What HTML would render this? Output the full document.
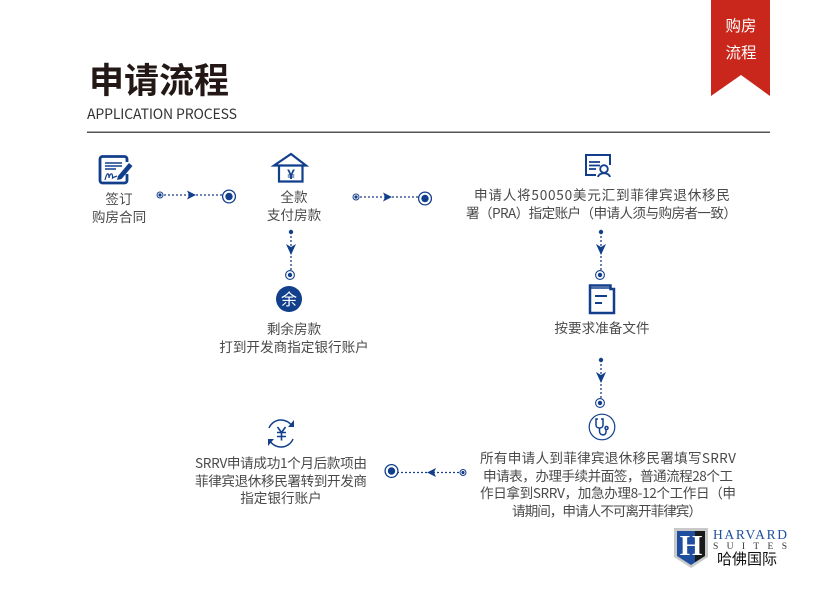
<!DOCTYPE html>
<html lang="zh">
<head>
<meta charset="utf-8">
<style>
html,body{margin:0;padding:0;background:#fff}
svg{display:block}
text{font-family:"Liberation Sans","Noto Sans CJK SC",sans-serif}
.t{font-family:"Noto Sans CJK SC",sans-serif;font-size:13.6px;fill:#4a4a4a;text-anchor:middle}
.dash{stroke:#1b3f8b;stroke-width:1.3;stroke-dasharray:2 2;fill:none}
.ic{fill:none;stroke:#123f8c;stroke-width:2.2}
.ic1{fill:none;stroke:#123f8c;stroke-width:1.5}
.blue{fill:#123f8c}
</style>
</head>
<body>
<svg width="826" height="600" viewBox="0 0 826 600" xmlns="http://www.w3.org/2000/svg">
<defs>
<g id="h"><line class="dash" x1="0" y1="0" x2="63" y2="0"/><circle cx="0" cy="0" r="3" fill="#fff" stroke="#1b3f8b" stroke-width="1"/><circle r="1.600" class="blue"/><path class="blue" d="M27 -4.500L36 0L27 4.500L29 0Z"/><circle cx="69" cy="1.500" r="6.400" fill="#fff" stroke="#123f8c" stroke-width="1.300"/><circle cx="69" cy="1.500" r="3.700" class="blue"/></g>
<g id="v"><line class="dash" x1="0" y1="0" x2="0" y2="40"/><circle r="2.200" class="blue"/><path class="blue" d="M-5 12L0 15L5 12L0 23Z"/><circle cx="-1" cy="43" r="4.400" fill="#fff" stroke="#123f8c" stroke-width="1.100"/><circle cx="-1" cy="43" r="2.200" class="blue"/></g>
</defs>

<!-- header -->
<text x="89" y="93" style="font-family:'Noto Sans CJK SC',sans-serif;font-size:35px;font-weight:700;fill:#231815">申请流程</text>
<text x="87" y="119" style="font-family:'Noto Sans CJK SC',sans-serif;font-size:14px;fill:#333" textLength="150">APPLICATION PROCESS</text>
<rect x="87" y="131.500" width="683" height="1.500" fill="#555"/>
<path d="M711 0H770V96L741 75L711 96Z" fill="#c9261c"/>
<text x="741" y="31" text-anchor="middle" style="font-family:'Noto Sans CJK SC',sans-serif;font-size:15.500px;fill:#fff">购房</text>
<text x="741" y="58" text-anchor="middle" style="font-family:'Noto Sans CJK SC',sans-serif;font-size:15.500px;fill:#fff">流程</text>

<!-- icon: contract -->
<path class="ic" style="stroke-width:2.800" d="M127 162V159A2.500 2.500 0 0 0 124.500 156.500H102.500A2.500 2.500 0 0 0 100 159V180.500A2.500 2.500 0 0 0 102.500 183H124.500A2.500 2.500 0 0 0 127 180.500V174"/>
<path class="ic1" d="M105 163H122M105 166H122M105 169H116"/>
<path class="ic1" style="stroke-width:1.200" d="M105 180C107 172 109 172 109 178C110 173 113 172 112.500 178C113.500 177 115 177 117 176"/>
<path class="blue" d="M118 176L129 163L132.500 166L121.500 179L117 180Z"/>
<!-- icon: house -->
<path class="ic" d="M274 165.500L291 154L306 165.500Z"/>
<path class="ic" d="M279 166V181.500H302.500V166"/>
<text x="291" y="179" text-anchor="middle" style="font-family:'Liberation Sans',sans-serif;font-size:14px;font-weight:700;fill:#123f8c">¥</text>
<!-- icon: id -->
<path class="ic1" style="stroke-width:2" d="M610 165V155H586V175H596"/>
<path class="ic1" style="stroke-width:1.700" d="M589 162H600M589 165.500H600M589 169H596"/>
<circle class="ic1" style="stroke-width:1.800" cx="604" cy="169" r="3.800"/>
<path class="ic1" style="stroke-width:1.800" d="M598 177C599 172 609 172 610 177"/>
<!-- icon: doc -->
<path class="ic" style="stroke-width:2.500" d="M590 313V285.500H610.500V289H614V313Z"/>
<path class="ic" style="stroke-width:2" d="M595 296H607M595 303H602"/>
<path class="ic1" d="M590 288H610"/>
<!-- icon: yu -->
<circle cx="289" cy="299" r="13" class="blue"/>
<text x="289" y="305" text-anchor="middle" style="font-family:'Noto Sans CJK SC',sans-serif;font-size:16px;fill:#fff">余</text>
<!-- icon: exchange -->
<path class="ic1" d="M269 428A13 13 0 0 1 292 426M293 439A13 13 0 0 1 270 441"/>
<path class="blue" d="M294 420V427H288ZM268 446V439H274Z"/>
<path class="ic1" style="stroke-width:1.600" d="M277.500 427L281.500 432.500L285.500 427M277 432.500H286M277 436.500H286M281.500 432.500V440.500"/>
<!-- icon: stethoscope -->
<circle cx="602" cy="427" r="12.800" fill="none" stroke="#123f8c" stroke-width="1.200"/>
<path class="ic1" d="M598 419H596V425C596 429 603 429 603 425V419H601"/>
<path class="ic1" d="M599.500 428V431C599.500 436 606 436 606 432V429"/>
<circle class="ic1" cx="606.500" cy="428" r="1.500"/>

<!-- connectors -->
<use href="#h" x="160" y="195"/>
<use href="#h" x="356" y="197"/>
<use href="#v" x="291" y="232"/>
<use href="#v" x="601" y="232"/>
<use href="#v" x="601" y="360"/>
<line class="dash" x1="463" y1="472.500" x2="397" y2="472.500"/>
<circle cx="463" cy="472.500" r="3" fill="#fff" stroke="#1b3f8b" stroke-width="1"/>
<circle cx="463" cy="472.500" r="1.600" class="blue"/>
<path class="blue" d="M436 468L427 472.500L436 477L434 472.500Z"/>
<circle cx="391.500" cy="471" r="6.400" fill="#fff" stroke="#123f8c" stroke-width="1.300"/>
<circle cx="391.500" cy="471" r="3.700" class="blue"/>

<!-- labels -->
<text class="t" x="119" y="204">签订</text>
<text class="t" x="119" y="222">购房合同</text>
<text class="t" x="294" y="202">全款</text>
<text class="t" x="294" y="220">支付房款</text>
<text class="t" x="294" y="334">剩余房款</text>
<text class="t" x="294" y="352">打到开发商指定银行账户</text>
<text class="t" x="602" y="200" textLength="256">申请人将50050美元汇到菲律宾退休移民</text>
<text class="t" x="601.500" y="218" textLength="271">署（PRA）指定账户（申请人须与购房者一致）</text>
<text class="t" x="602" y="333">按要求准备文件</text>
<text class="t" x="281" y="468" textLength="172">SRRV申请成功1个月后款项由</text>
<text class="t" x="281" y="486" textLength="172">菲律宾退休移民署转到开发商</text>
<text class="t" x="281" y="503">指定银行账户</text>
<text class="t" x="608" y="463" textLength="256">所有申请人到菲律宾退休移民署填写SRRV</text>
<text class="t" x="608" y="481" textLength="250">申请表，办理手续并面签，普通流程28个工</text>
<text class="t" x="608" y="498" textLength="256">作日拿到SRRV，加急办理8-12个工作日（申</text>
<text class="t" x="607" y="516" textLength="190">请期间，申请人不可离开菲律宾）</text>

<!-- logo -->
<path d="M674 528H708V557L691 568L674 557Z" fill="#c9c9c9"/>
<path d="M677 531H705V556L691 565L677 556Z" fill="#1f4e9e"/>
<path d="M695 531H705V556L695 562Z" fill="#1a1a1a"/>
<text x="691" y="555" text-anchor="middle" style="font-family:'Liberation Serif',serif;font-size:29px;font-weight:700;fill:#fff">H</text>
<text x="713" y="539" textLength="74" style="font-family:'Liberation Serif',serif;font-size:13.500px;fill:#1f4e9e">HARVARD</text>
<text x="713" y="549" textLength="74" style="font-family:'Liberation Serif',serif;font-size:9.500px;fill:#333">SUITES</text>
<text x="717" y="564" style="font-family:'Noto Sans CJK SC',sans-serif;font-size:15px;fill:#111">哈佛国际</text>
</svg>
</body>
</html>
